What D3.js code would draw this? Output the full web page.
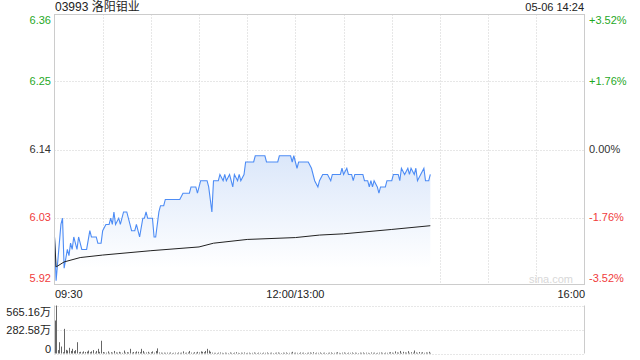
<!DOCTYPE html>
<html><head><meta charset="utf-8">
<script src="https://cdn.jsdelivr.net/npm/d3@7"></script>
<style>body{margin:0;background:#fff}svg{display:block}text{font-family:"Liberation Sans",Arial,sans-serif}</style>
</head><body><svg id="c" width="640" height="360"></svg>
<script>
const title = "03993 洛阳钼业";
const stamp = "05-06 14:24";
const prevClose = 6.14;
const priceTicks = [6.36, 6.25, 6.14, 6.03, 5.92];
const pctTicks = ["+3.52%", "+1.76%", "0.00%", "-1.76%", "-3.52%"];
const timeTicks = ["09:30", "12:00/13:00", "16:00"];
const volTicks = ["565.16万", "282.58万", "0"];
// trading minutes since 09:30 (lunch removed) and last price
const priceMin = [0,1,4,5,6,8,9,10,11,12,14,15,17,20,22,23,26,27,29,30,32,34,35,36,37,38,40,41,43,45,47,48,50,51,53,55,56,57,58,61,62,63,65,66,68,69,78,80,84,85,88,89,91,95,96,98,99,102,103,105,106,107,109,110,111,112,114,115,116,118,119,124,125,131,132,139,140,147,148,149,151,152,158,160,162,164,165,167,170,172,173,178,179,180,182,183,185,186,187,192,193,195,196,197,198,199,201,202,203,206,207,210,211,214,215,216,218,220,221,222,224,225,226,228,230,231,233,234];
const priceVal = [6.00,5.93,6.02,6.03,5.95,5.98,5.97,5.99,5.98,6.00,5.98,6.00,5.98,5.98,6.01,6.00,6.00,5.99,5.99,6.01,6.02,6.02,6.03,6.02,6.04,6.02,6.03,6.02,6.04,6.04,6.02,6.01,6.01,6.02,6.00,6.03,6.03,6.04,6.03,6.03,6.00,6.00,6.04,6.05,6.05,6.06,6.06,6.07,6.07,6.08,6.08,6.07,6.09,6.09,6.08,6.04,6.09,6.09,6.10,6.09,6.10,6.09,6.10,6.09,6.08,6.10,6.09,6.10,6.09,6.10,6.12,6.12,6.13,6.13,6.12,6.12,6.13,6.13,6.12,6.13,6.11,6.12,6.12,6.11,6.09,6.08,6.09,6.10,6.10,6.09,6.10,6.10,6.11,6.10,6.11,6.10,6.10,6.09,6.10,6.10,6.09,6.09,6.08,6.09,6.08,6.09,6.08,6.07,6.08,6.08,6.09,6.09,6.10,6.10,6.09,6.11,6.10,6.11,6.10,6.11,6.10,6.11,6.09,6.10,6.11,6.09,6.09,6.10];
const avgMin = [0,1,6,16,30,60,90,99,120,150,165,180,210,234];
const avgVal = [6.00,5.952,5.960,5.967,5.971,5.978,5.984,5.990,5.996,5.999,6.003,6.005,6.012,6.018];
// volume per minute, in 万
const volume = [388,565,40,133,82,15,290,43,35,67,
30,55,28,40,133,15,20,12,25,18,
22,35,15,25,40,10,30,55,20,150,
18,12,10,25,8,15,10,30,12,10,
20,12,8,35,10,15,12,55,10,18,
12,25,20,15,55,30,10,12,20,8,
15,25,10,30,60,12,10,8,10,8,
10,8,12,6,8,10,6,12,8,10,
25,8,10,12,30,10,8,15,10,20,
12,25,20,15,30,55,35,20,10,8,
8,6,10,12,8,6,10,8,6,12,
8,6,10,15,8,6,10,8,12,6,
8,10,6,8,12,8,6,10,8,6,
10,8,12,6,8,10,6,8,10,12,
8,6,10,8,12,6,8,10,20,8,
10,8,6,12,8,10,6,8,10,12,
8,15,6,10,8,12,6,8,10,6,
8,10,12,6,8,10,15,8,6,10,
12,8,6,10,8,12,6,10,8,6,
10,8,12,6,10,8,6,12,8,10,
6,8,10,12,8,6,10,8,12,15,
10,8,25,12,10,30,8,20,12,10,
28,8,15,10,35,12,8,18,10,15,
8,12,10,20,8];
const volMax = 565.16;

const svg = d3.select("#c");
const L = 54.5, R = 584.5, T = 14.5, B = 284.5, VT = 305.5, VB = 353.5;
const green = "#1fa81f", red = "#f03c3c", dark = "#333";
const x = d3.scaleLinear().domain([0, 330]).range([L, R]);
const span = prevClose * 0.0352;
const y = d3.scaleLinear().domain([prevClose - span, prevClose + span]).range([B, T]);
const yv = d3.scaleLinear().domain([0, volMax]).range([VB, VT]);

const defs = svg.append("defs");
const g = defs.append("linearGradient").attr("id","fillg").attr("x1",0).attr("y1",0).attr("x2",0).attr("y2",1)
  .attr("gradientUnits","userSpaceOnUse").attr("x1",0).attr("x2",0).attr("y1",y(6.13)).attr("y2",y(5.95));
g.append("stop").attr("offset",0).attr("stop-color","#dbe7fa");
g.append("stop").attr("offset",1).attr("stop-color","#ffffff");

// grid
const gridC = "#cfcfcf";
[6.25, 6.14, 6.03].forEach(p => svg.append("line").attr("x1",L).attr("x2",R).attr("y1",Math.round(y(p))+0.5).attr("y2",Math.round(y(p))+0.5)
  .attr("stroke",gridC).attr("stroke-dasharray","1,2"));
d3.range(1, 11).forEach(k => svg.append("line").attr("x1",Math.round(x(k*30))+0.5).attr("x2",Math.round(x(k*30))+0.5).attr("y1",T).attr("y2",B)
  .attr("stroke",gridC).attr("stroke-dasharray","1,2"));

// area + lines
const pts = priceMin.map((m,i) => [m, priceVal[i]]);
svg.append("path").datum(pts).attr("fill","url(#fillg)")
  .attr("d", d3.area().x(d=>x(d[0])).y0(B).y1(d=>y(d[1])));
svg.append("path").datum(pts).attr("fill","none").attr("stroke","#4d8cf5").attr("stroke-width",1.1)
  .attr("d", d3.line().x(d=>x(d[0])).y(d=>y(d[1])));
svg.append("path").datum(avgMin.map((m,i)=>[m, avgVal[i]])).attr("fill","none").attr("stroke","#222").attr("stroke-width",1)
  .attr("d", d3.line().x(d=>x(d[0])).y(d=>y(d[1])));

// frame
svg.append("rect").attr("x",L).attr("y",T).attr("width",R-L).attr("height",B-T).attr("fill","none").attr("stroke","#cccccc");

// watermark
svg.append("text").attr("x",573).attr("y",283).attr("text-anchor","end").attr("font-size",11).attr("fill","#d8d8d8").text("sina.com");

// price labels
const ys = [20, 81, 149, 217, 278];
priceTicks.forEach((p,i) => {
  const c = p > prevClose ? green : (p < prevClose ? red : dark);
  svg.append("text").attr("x",51).attr("y",ys[i]).attr("dy","0.35em").attr("text-anchor","end").attr("font-size",11).attr("fill",c).text(p.toFixed(2));
  svg.append("text").attr("x",589).attr("y",ys[i]).attr("dy","0.35em").attr("text-anchor","start").attr("font-size",11).attr("fill",c).text(pctTicks[i]);
});

// title
svg.append("text").attr("x",55).attr("y",11).attr("font-size",12).attr("fill","#222")
  .style("font-family","'Liberation Sans','Noto Sans CJK SC',sans-serif").text(title);
svg.append("text").attr("x",584).attr("y",11).attr("text-anchor","end").attr("font-size",11).attr("fill","#222").text(stamp);

// time labels
svg.append("text").attr("x",55).attr("y",298).attr("font-size",11).attr("fill","#222").text(timeTicks[0]);
svg.append("text").attr("x",x(150)).attr("y",298).attr("text-anchor","middle").attr("font-size",11).attr("fill","#222").text(timeTicks[1]);
svg.append("text").attr("x",585).attr("y",298).attr("text-anchor","end").attr("font-size",11).attr("fill","#222").text(timeTicks[2]);

// volume panel
[VT, (VT+VB)/2, VB].forEach(v => svg.append("line").attr("x1",L).attr("x2",R).attr("y1",Math.round(v)+0.5).attr("y2",Math.round(v)+0.5)
  .attr("stroke",gridC).attr("stroke-dasharray","1,2"));
svg.append("line").attr("x1",L).attr("x2",L).attr("y1",VT).attr("y2",VB).attr("stroke","#cccccc");
svg.append("line").attr("x1",R).attr("x2",R).attr("y1",VT).attr("y2",VB).attr("stroke","#cccccc");
svg.selectAll("line.vb").data(volume).enter().append("line").attr("class","vb")
  .attr("x1",(d,i)=>Math.round(x(i))+0.5).attr("x2",(d,i)=>Math.round(x(i))+0.5)
  .attr("y1",VB).attr("y2",d=>yv(d)).attr("stroke","#666").attr("stroke-width",1);
const vys = [312, 330, 349];
volTicks.forEach((t,i) => svg.append("text").attr("x",51).attr("y",vys[i]).attr("dy","0.35em").attr("text-anchor","end")
  .attr("font-size",11).attr("fill","#222").style("font-family","'Liberation Sans','Noto Sans CJK SC',sans-serif").text(t));
</script></body></html>
